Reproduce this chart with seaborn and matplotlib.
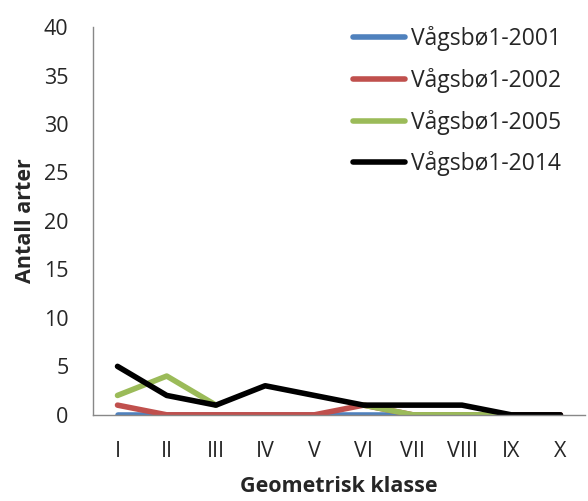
import numpy as np
import pandas as pd
import matplotlib
matplotlib.use("Agg")
import matplotlib.pyplot as plt
import seaborn as sns

classes = ["I", "II", "III", "IV", "V", "VI", "VII", "VIII", "IX", "X"]
s2001 = [0, 0, 0, 0, 0, 0, 0, 0, 0, 0]
s2002 = [1, 0, 0, 0, 0, 1, 0, 0, 0, 0]
s2005 = [2, 4, 1, np.nan, np.nan, 1, 0, 0, 0, np.nan]
s2014 = [5, 2, 1, 3, 2, 1, 1, 1, 0, 0]
series_names = ["Vågsbø1-2001", "Vågsbø1-2002", "Vågsbø1-2005", "Vågsbø1-2014"]
colors = ["#4F81BD", "#C0504D", "#9BBB59", "#000000"]

sns.set_style("white")
plt.rcParams["font.family"] = ["Open Sans", "DejaVu Sans"]

FS = 15.5
LW = 4

fig = plt.figure(figsize=(5.88, 5.01), dpi=100)
ax = fig.add_axes([0.158, 0.172, 0.837, 0.774])

pos = np.arange(len(classes))
for name, vals, col in zip(series_names, [s2001, s2002, s2005, s2014], colors):
    df = pd.DataFrame({"pos": pos, "val": vals})
    # split on missing values so gaps stay open
    seg = df["val"].isna().cumsum()
    first = True
    for _, part in df.dropna().groupby(seg[df["val"].notna()]):
        sns.lineplot(data=part, x="pos", y="val", ax=ax, color=col, lw=LW,
                     label=name if first else None, solid_capstyle="round",
                     estimator=None, sort=False)
        first = False

ax.set_xlim(-0.5, len(classes) - 0.5)
ax.set_ylim(0, 40)
ax.set_yticks(range(0, 41, 5))
ax.set_xticks(pos)
ax.set_xticklabels(classes)
ax.set_xticks(np.arange(0.5, len(classes) - 0.5, 1), minor=True)
ax.tick_params(axis="x", which="major", length=0, pad=19, labelsize=FS)
ax.tick_params(axis="x", which="minor", length=5, color="#888888", width=1)
ax.tick_params(axis="y", length=6.5, color="#888888", width=1, labelsize=FS, pad=11)

for side in ["top", "right"]:
    ax.spines[side].set_visible(False)
for side in ["left", "bottom"]:
    ax.spines[side].set_color("#888888")
    ax.spines[side].set_linewidth(1)

ax.set_xlabel("Geometrisk klasse", fontsize=FS, fontweight="bold", labelpad=10)
ax.set_ylabel("Antall arter", fontsize=FS, fontweight="bold", labelpad=6)

leg = ax.legend(loc="upper right", bbox_to_anchor=(0.969, 1.026), frameon=False,
                fontsize=16.5, handlelength=2.3, handletextpad=0.22,
                labelspacing=0.73, borderaxespad=0)
for h in leg.get_lines():
    h.set_linewidth(LW)

fig.savefig("out.png", dpi=100)
